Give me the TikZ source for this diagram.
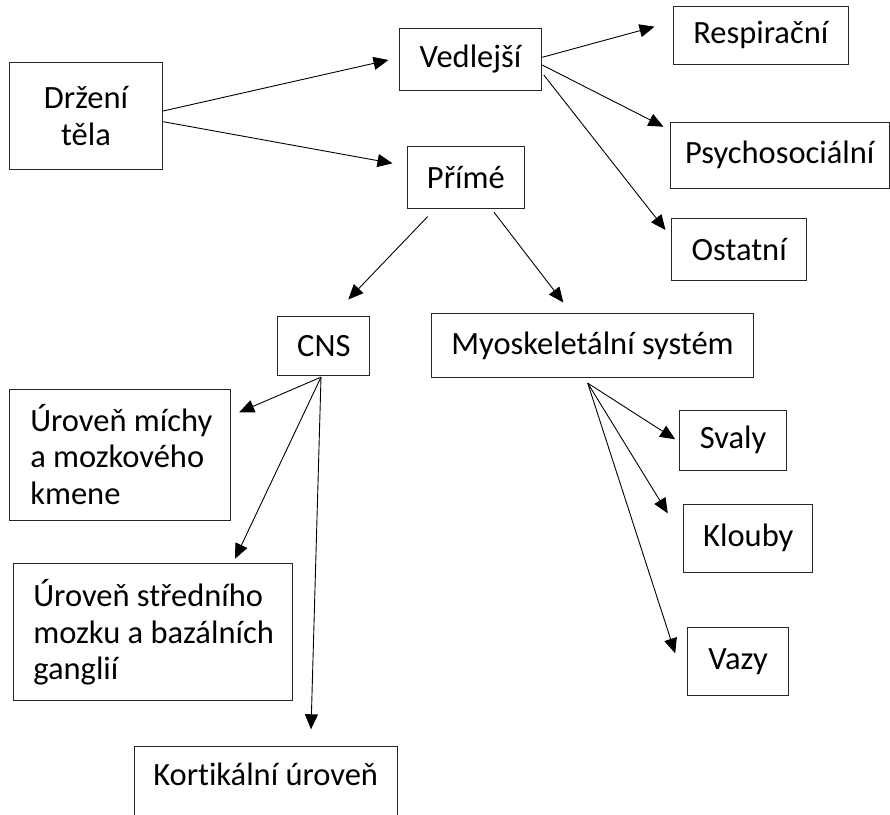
\documentclass[tikz,border=0pt]{standalone}
\usepackage{fontspec}
\setmainfont{Carlito}[RawFeature={-liga;-dlig;-clig}]
\usetikzlibrary{arrows.meta,calc}
\newcommand{\lefttext}[3]{\parbox{#1}{\raggedright\leftskip=#2\relax #3}}
\tikzset{
  box/.style={draw=black!85, line width=1pt, inner sep=0pt, font=\fontsize{32.5}{36.7}\selectfont},
  cbox/.style={box, align=center},
  conn/.style={line width=0.9pt, -{Triangle[length=15pt,width=13pt]}}
}
\begin{document}
\begin{tikzpicture}[x=1pt,y=-1pt]
\useasboundingbox (0,0) rectangle (890,814);
\clip (0,0) rectangle (890,814);
\fill[white] (0,0) rectangle (890,814);
% nodes
\node[cbox, minimum width=153.4pt, minimum height=106.7pt] (drz) at (86,116) {Držení\\těla};
\node[cbox, minimum width=142.4pt, minimum height=61.7pt] (ved) at (470.5,59.2) {Vedlejší};
\node[cbox, minimum width=117pt, minimum height=62.3pt] (pri) at (465.8,177.2) {Přímé};
\node[cbox, minimum width=175pt, minimum height=58pt] (res) at (760.8,35) {Respirační};
\node[cbox, minimum width=219.5pt, minimum height=66pt] (psy) at (779.75,155.3) {Psychosociální};
\node[cbox, minimum width=135pt, minimum height=61.7pt] (ost) at (739.2,249.2) {Ostatní};
\node[cbox, minimum width=92.3pt, minimum height=59.3pt] (cns) at (323.8,346.3) {CNS};
\node[cbox, minimum width=321.6pt, minimum height=64.3pt] (myo) at (592.5,345.8) {Myoskeletální systém};
\node[box, minimum height=131pt] (mic) at (119.8,454.5) {\lefttext{221pt}{21pt}{Úroveň míchy\\a mozkového\\kmene}};
\node[box, minimum height=137.3pt] (str) at (152.7,632.3) {\lefttext{278.7pt}{20pt}{Úroveň středního\\mozku a bazálních\\ganglií}};
\node[cbox, anchor=north, minimum width=263.3pt, text height=39pt, text depth=32pt] (kor) at (265.7,746) {Kortikální úroveň};
\node[cbox, minimum width=106.6pt, minimum height=60pt] (sva) at (733,440) {Svaly};
\node[cbox, minimum width=129.3pt, minimum height=68pt] (klo) at (748.3,538) {Klouby};
\node[cbox, minimum width=101pt, minimum height=68.3pt] (vaz) at (738.2,661.8) {Vazy};
% connectors
\draw[conn] ($(drz.east)+(0,-5)$) -- ($(ved.west)+(-10.3,0.8)$);
\draw[conn] ($(drz.east)+(0,5.7)$) -- ($(pri.west)+(-14.3,-13.9)$);
\draw[conn] ($(ved.east)+(0,-1.9)$) -- ($(res.west)+(-18.3,-8.3)$);
\draw[conn] ($(ved.east)+(0,5.8)$) -- ($(psy.west)+(-6,-28.6)$);
\draw[conn] ($(ved.east)+(1.6,15.8)$) -- ($(ost.west)+(-5.7,-19.2)$);
\draw[conn] ($(pri.south)+(-38.1,7.7)$) -- ($(cns.north)+(24.5,-16.7)$);
\draw[conn] ($(pri.south)+(28.2,3.4)$) -- ($(myo.north)+(-29.2,-10.7)$);
\draw[conn] ($(cns.south)+(-2.8,0.7)$) -- ($(mic.east)+(8.4,-42.2)$);
\draw[conn] ($(cns.south)+(-2.8,0.7)$) -- ($(str.north)+(82.3,-4.4)$);
\draw[conn] ($(cns.south)+(-2.8,0.7)$) -- ($(kor.north)+(45.3,-16.7)$);
\draw[conn] ($(myo.south)+(-4.8,4.7)$) -- ($(sva.west)+(-4,-0.7)$);
\draw[conn] ($(myo.south)+(-4.8,4.7)$) -- ($(klo.west)+(-15.4,-24.7)$);
\draw[conn] ($(myo.south)+(-4.8,4.7)$) -- ($(vaz.west)+(-12,-8.5)$);
\end{tikzpicture}
\end{document}
